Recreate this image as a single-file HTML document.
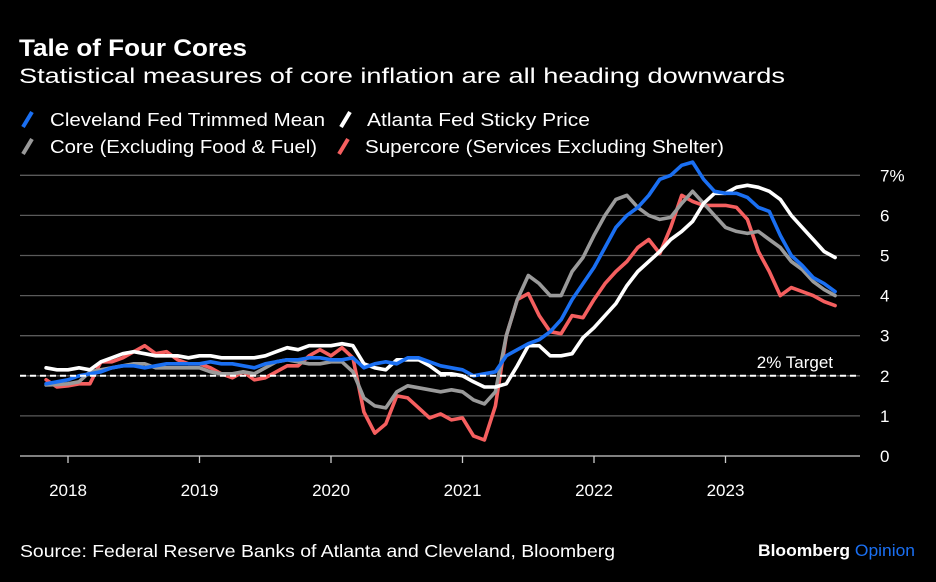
<!DOCTYPE html>
<html><head><meta charset="utf-8"><style>
html,body{margin:0;padding:0;background:#000;}
svg{display:block;font-family:"Liberation Sans",Arial,sans-serif;}
</style></head><body>
<svg id="chart" width="936" height="582" viewBox="0 0 936 582" xmlns="http://www.w3.org/2000/svg">
<rect x="0" y="0" width="936" height="582" fill="#000"/>
<text x="19" y="56" fill="#fff" font-size="24" font-weight="bold" textLength="228" lengthAdjust="spacingAndGlyphs">Tale of Four Cores</text>
<text x="19" y="83" fill="#fff" font-size="21" textLength="766" lengthAdjust="spacingAndGlyphs">Statistical measures of core inflation are all heading downwards</text>
<g>
<g><line x1="23" y1="127" x2="32" y2="112" stroke="#1a6ff2" stroke-width="4"/><text x="50" y="126" fill="#fff" font-size="18.5" textLength="275" lengthAdjust="spacingAndGlyphs">Cleveland Fed Trimmed Mean</text></g>
<g><line x1="341" y1="127" x2="350" y2="112" stroke="#fff" stroke-width="4"/><text x="367" y="126" fill="#fff" font-size="18.5" textLength="223" lengthAdjust="spacingAndGlyphs">Atlanta Fed Sticky Price</text></g>
<g><line x1="23" y1="154" x2="32" y2="139" stroke="#9a9a9a" stroke-width="4"/><text x="50" y="153" fill="#fff" font-size="18.5" textLength="267" lengthAdjust="spacingAndGlyphs">Core (Excluding Food &amp; Fuel)</text></g>
<g><line x1="339" y1="154" x2="348" y2="139" stroke="#f55f5f" stroke-width="4"/><text x="365" y="153" fill="#fff" font-size="18.5" textLength="359" lengthAdjust="spacingAndGlyphs">Supercore (Services Excluding Shelter)</text></g>
</g>
<g id="grid"></g>
<g id="axes"></g>
<g id="series"></g>
<text x="20" y="557" fill="#fff" font-size="17.5" textLength="595" lengthAdjust="spacingAndGlyphs">Source: Federal Reserve Banks of Atlanta and Cleveland, Bloomberg</text>
<text x="758" y="556" font-size="17" font-weight="bold" textLength="157" lengthAdjust="spacingAndGlyphs"><tspan fill="#fff">Bloomberg</tspan><tspan fill="#1a6ff2" font-weight="normal"> Opinion</tspan></text>
</svg>
<script>
const startYear = 2017, startMonth = 10; // Nov 2017
const yTicks = [0,1,2,3,4,5,6,7];
const yTickLabels = ["0","1","2","3","4","5","6","7%"];
const xYears = [2018,2019,2020,2021,2022,2023];
const target = 2;
const cleveland = [1.8,1.85,1.9,2.0,2.05,2.1,2.2,2.25,2.25,2.2,2.25,2.3,2.3,2.3,2.3,2.35,2.3,2.3,2.25,2.2,2.3,2.35,2.4,2.4,2.45,2.45,2.4,2.4,2.45,2.2,2.3,2.35,2.3,2.45,2.45,2.35,2.25,2.2,2.15,2.0,2.05,2.1,2.5,2.65,2.8,2.9,3.1,3.4,3.9,4.3,4.7,5.2,5.7,6.0,6.2,6.5,6.9,7.0,7.25,7.33,6.9,6.6,6.55,6.55,6.45,6.2,6.1,5.5,5.0,4.75,4.45,4.3,4.1];
const atlanta = [2.2,2.15,2.15,2.2,2.15,2.35,2.45,2.55,2.6,2.55,2.5,2.5,2.5,2.45,2.5,2.5,2.45,2.45,2.45,2.45,2.5,2.6,2.7,2.65,2.75,2.75,2.75,2.8,2.75,2.3,2.2,2.15,2.4,2.4,2.4,2.25,2.05,2.05,2.0,1.85,1.72,1.72,1.8,2.25,2.75,2.75,2.5,2.5,2.55,2.95,3.2,3.5,3.8,4.25,4.6,4.85,5.1,5.4,5.6,5.85,6.3,6.55,6.55,6.7,6.75,6.7,6.6,6.4,6.0,5.7,5.4,5.1,4.95];
const core = [1.77,1.78,1.8,1.85,2.1,2.15,2.2,2.25,2.3,2.3,2.2,2.2,2.2,2.2,2.2,2.1,2.05,2.05,2.1,2.05,2.2,2.35,2.4,2.35,2.3,2.3,2.35,2.35,2.1,1.45,1.25,1.2,1.6,1.75,1.7,1.65,1.6,1.65,1.6,1.4,1.3,1.6,3.0,3.9,4.5,4.3,4.0,4.0,4.6,4.95,5.5,6.0,6.4,6.5,6.2,6.0,5.9,5.95,6.3,6.6,6.3,6.0,5.7,5.6,5.55,5.6,5.4,5.2,4.85,4.65,4.35,4.15,4.0];
const supercore = [1.9,1.72,1.75,1.8,1.8,2.35,2.35,2.45,2.6,2.75,2.55,2.6,2.4,2.3,2.3,2.2,2.05,1.95,2.1,1.9,1.95,2.1,2.25,2.25,2.5,2.65,2.5,2.7,2.45,1.1,0.57,0.8,1.5,1.45,1.2,0.95,1.05,0.9,0.95,0.5,0.4,1.25,3.0,3.9,4.05,3.5,3.1,3.05,3.5,3.45,3.9,4.3,4.6,4.85,5.2,5.4,5.05,5.7,6.5,6.35,6.25,6.25,6.25,6.2,5.9,5.1,4.6,4.0,4.2,4.1,4.0,3.85,3.75];

const NS = "http://www.w3.org/2000/svg";
const plotL = 20, plotR = 860;
function yScale(v){ return 456 - v*40.1; }
function xMonth(i){ return 68 + (i + startMonth - 12) * (131.5/12) + (startYear-2017)*0; }
function xYear(y){ return 68 + (y-2018)*131.5; }
function mk(tag, attrs, parent){ const e=document.createElementNS(NS,tag); for(const k in attrs) e.setAttribute(k,attrs[k]); parent.appendChild(e); return e; }

const grid = document.getElementById('grid');
yTicks.forEach((t,i)=>{
  if(t>0){
    const g = mk('line',{x1:plotL,x2:plotR,y1:yScale(t),y2:yScale(t),stroke:'#5a5a5a','stroke-width':1.3},grid);
    
    
  }
  const tx = mk('text',{x:880,y:yScale(t)+6,fill:'#fff','font-size':17},grid);
  tx.textContent = yTickLabels[i];
  
  
});
const axes = document.getElementById('axes');
const base = mk('line',{x1:plotL,x2:plotR,y1:456,y2:456,stroke:'#ccc','stroke-width':1.3},axes);


xYears.forEach(y=>{
  const tk = mk('line',{x1:xYear(y),x2:xYear(y),y1:456,y2:463,stroke:'#ccc','stroke-width':1.3},axes);
  
  
  const tl = mk('text',{x:xYear(y),y:496,fill:'#fff','font-size':17,'text-anchor':'middle'},axes);
  tl.textContent = String(y);
  
  
});

const series = document.getElementById('series');
function drawLine(data, color, name){
  const pts = data.map((v,i)=>xMonth(i).toFixed(1)+','+yScale(v).toFixed(1)).join(' ');
  const p = mk('polyline',{points:pts,fill:'none',stroke:color,'stroke-width':3.6,'stroke-linejoin':'round','stroke-linecap':'round'},series);
  
  
}
drawLine(supercore,'#f55f5f','series-supercore');
drawLine(core,'#9a9a9a','series-core');
drawLine(atlanta,'#ffffff','series-atlanta-sticky');
drawLine(cleveland,'#1a6ff2','series-cleveland-trimmed-mean');

const tl = mk('line',{x1:plotL,x2:plotR,y1:yScale(target),y2:yScale(target),stroke:'#fff','stroke-width':2,'stroke-dasharray':'6,4'},series);


const tt = mk('text',{x:833,y:yScale(target)-8,fill:'#fff','font-size':17,'text-anchor':'end'},series);
tt.textContent = '2% Target';


</script>
</body></html>
